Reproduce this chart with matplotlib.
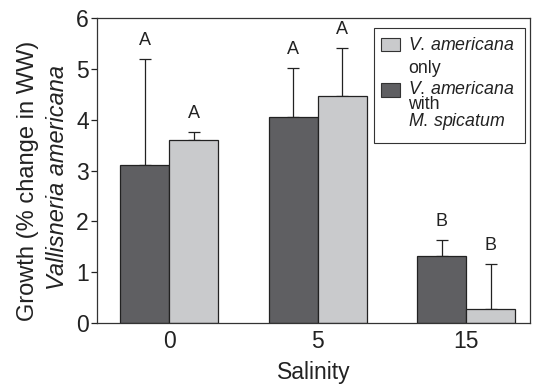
import numpy as np
import matplotlib
matplotlib.use('Agg')
import matplotlib.pyplot as plt
from matplotlib.patches import Rectangle

plt.rcParams['font.family'] = ['Liberation Sans', 'DejaVu Sans']
plt.rcParams['mathtext.fontset'] = 'custom'
plt.rcParams['mathtext.rm'] = 'Liberation Sans'
plt.rcParams['mathtext.it'] = 'Liberation Sans:italic'

# growth of V. americana at each salinity
salinity = ['0', '5', '15']
with_myrio = [3.10, 4.05, 1.32]
with_myrio_err = [2.09, 0.97, 0.31]
only_vall = [3.60, 4.47, 0.28]
only_vall_err = [0.15, 0.94, 0.88]
letters_with = ['A', 'A', 'B']
letters_only = ['A', 'A', 'B']

dark = '#5f5f62'
light = '#c9cacc'

W, H = 538, 386
fig = plt.figure(figsize=(W / 100, H / 100), dpi=100)
ax = fig.add_axes([97 / W, 1 - 323 / H, 433 / W, 305 / H])

x = np.arange(len(salinity))
bw = 0.33
ax.bar(x - bw / 2, with_myrio, bw, color=dark, edgecolor='#222222', linewidth=0.9, zorder=2)
ax.bar(x + bw / 2, only_vall, bw, color=light, edgecolor='#222222', linewidth=0.9, zorder=2)

# one-sided error bars (upper only)
ax.errorbar(x - bw / 2, with_myrio, yerr=[np.zeros(3), with_myrio_err], fmt='none',
            ecolor='#222222', elinewidth=0.9, capsize=4, capthick=0.9, zorder=1)
ax.errorbar(x + bw / 2, only_vall, yerr=[np.zeros(3), only_vall_err], fmt='none',
            ecolor='#222222', elinewidth=0.9, capsize=4, capthick=0.9, zorder=1)

for i in range(len(salinity)):
    ax.text(x[i] - bw / 2, with_myrio[i] + with_myrio_err[i] + 0.2, letters_with[i],
            ha='center', va='bottom', fontsize=13, color='#222222')
    ax.text(x[i] + bw / 2, only_vall[i] + only_vall_err[i] + 0.2, letters_only[i],
            ha='center', va='bottom', fontsize=13, color='#222222')

ax.set_xlim(-0.487, 2.43)
ax.set_ylim(0, 6)
ax.set_yticks(range(7))
ax.set_xticks(x)
ax.set_xticklabels(salinity)
ax.tick_params(axis='y', direction='out', length=4, width=0.9, labelsize=16.5, pad=2, colors='#222222')
ax.tick_params(axis='x', length=0, labelsize=16.5, pad=5, colors='#222222')
for s in ax.spines.values():
    s.set_linewidth(0.9)
    s.set_color('#333333')
ax.set_xlabel('Salinity', fontsize=16.5, labelpad=6, color='#222222')

# y-axis label in two lines, second one italic
fig.text(28 / W, 1 - 181 / H, 'Growth (% change in WW)', rotation=90,
         ha='center', va='center', fontsize=17, color='#222222')
fig.text(58 / W, 1 - 178 / H, 'Vallisneria americana', rotation=90, style='italic',
         ha='center', va='center', fontsize=17, color='#222222')

# legend box
def fx(px):
    return (px - 97) / 433

def fy(py):
    return (323 - py) / 305

ax.add_patch(Rectangle((fx(374), fy(143)), fx(525) - fx(374), fy(28) - fy(143),
                       transform=ax.transAxes, facecolor='white', edgecolor='#333333',
                       linewidth=0.8, zorder=5))
ax.add_patch(Rectangle((fx(381), fy(51)), fx(400) - fx(381), fy(38) - fy(51),
                       transform=ax.transAxes, facecolor=light, edgecolor='#333333',
                       linewidth=0.8, zorder=6))
ax.add_patch(Rectangle((fx(381), fy(97)), fx(400) - fx(381), fy(83) - fy(97),
                       transform=ax.transAxes, facecolor=dark, edgecolor='#333333',
                       linewidth=0.8, zorder=6))
ax.text(fx(408), fy(37), '$\\it{V.\\,americana}$\nonly', transform=ax.transAxes,
        fontsize=12.8, ha='left', va='top', linespacing=1.45, color='#222222', zorder=7)
ax.text(fx(408), fy(81), '$\\it{V.\\,americana}$\nwith\n$\\it{M.\\,spicatum}$',
        transform=ax.transAxes, fontsize=12.8, ha='left', va='top', linespacing=0.85,
        color='#222222', zorder=7)

fig.savefig('out.png', dpi=100)
